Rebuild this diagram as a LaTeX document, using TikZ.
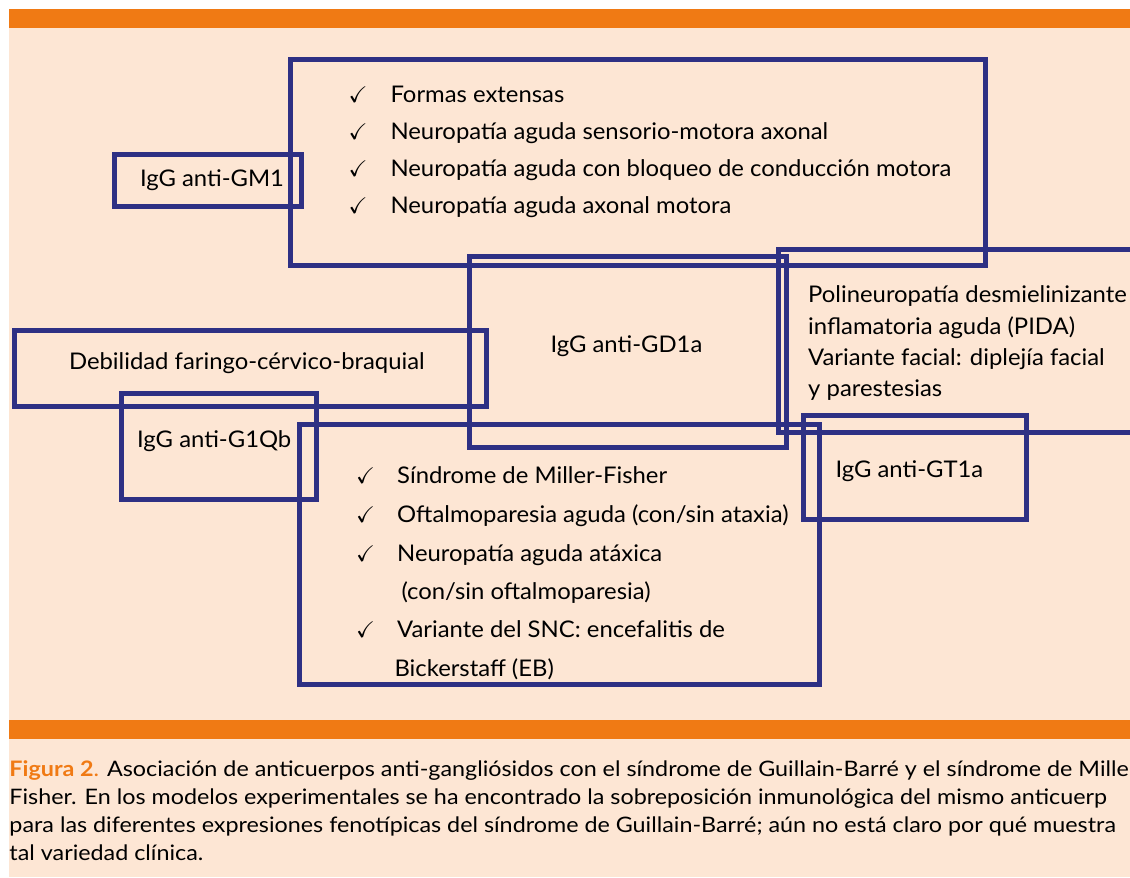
\documentclass[tikz,border=0pt]{standalone}
\usepackage{fontspec}
\usepackage{amssymb}
\setmainfont[FakeStretch=1.04]{Lato}
\newfontfamily\capfont[FakeStretch=1.093]{Lato}
\definecolor{bandorange}{HTML}{F07A14}
\definecolor{paper}{HTML}{FDE6D4}
\definecolor{boxblue}{HTML}{2E3084}
\tikzset{every picture/.style={line width=0.75pt}}
\tikzset{
  agbox/.style={draw=boxblue,line width=3.75pt},
  boxtext/.style={anchor=base west,inner sep=0pt,font=\fontsize{17.2}{20}\selectfont},
  chk/.style={anchor=base west,inner sep=0pt,font=\fontsize{17}{20}\selectfont},
  captext/.style={anchor=base west,inner sep=0pt,font=\capfont\fontsize{16}{21}\selectfont}
}

\begin{document}
\begin{tikzpicture}[x=0.75pt,y=0.75pt,yscale=-1,xscale=1]
\useasboundingbox (0,0) rectangle (1130,877);
\clip (0,0) rectangle (1130,877);

%Shape: Rectangle [id:paper]
\fill [white] (0,0) rectangle (1130,877);
\fill [paper] (9,9) rectangle (1130,877);
%Shape: Rectangle [id:topband]
\fill [bandorange] (9,9) rectangle (1130,28);
%Shape: Rectangle [id:bottomband]
\fill [bandorange] (9,720) rectangle (1130,739);

%Shape: Rectangle [id:gm1disorders]
\draw [agbox] (290,60) rectangle (985.5,265.5);
%Shape: Rectangle [id:gm1]
\draw [agbox] (114.5,154.5) rectangle (301.5,206.5);
%Shape: Rectangle [id:gd1a]
\draw [agbox] (469,256.5) rectangle (786,447.5);
%Shape: Rectangle [id:pida]
\draw [agbox] (778.5,249) rectangle (1145,432);
%Shape: Rectangle [id:debilidad]
\draw [agbox] (14,330) rectangle (486.5,406.5);
%Shape: Rectangle [id:g1qb]
\draw [agbox] (121,393.5) rectangle (316,499);
%Shape: Rectangle [id:millerfisher]
\draw [agbox] (299.5,424.5) rectangle (819,684);
%Shape: Rectangle [id:gt1a]
\draw [agbox] (803.5,415) rectangle (1026,519);

% Text Node
\draw (348,102.7) node (chkA) [chk] {$\checkmark$};
\draw (390,102.7) node (formas) [boxtext] {Formas extensas};
% Text Node
\draw (348,140) node (chkB) [chk] {$\checkmark$};
\draw (390,140) node (sensorio) [boxtext] {Neuropatía aguda sensorio-motora axonal};
% Text Node
\draw (348,177) node (chkC) [chk] {$\checkmark$};
\draw (390,177) node (bloqueo) [boxtext] {Neuropatía aguda con bloqueo de conducción motora};
% Text Node
\draw (348,214) node (chkD) [chk] {$\checkmark$};
\draw (390,214) node (axonal) [boxtext] {Neuropatía aguda axonal motora};

% Text Node
\draw (139.5,186.7) node (gmlabel) [boxtext] {IgG anti-GM1};
% Text Node
\draw (550,352.3) node (gdlabel) [boxtext] {IgG anti-GD1a};
% Text Node
\draw (68.5,369) node (deblabel) [boxtext] {Debilidad faringo-cérvico-braquial};
% Text Node
\draw (136.7,447.7) node (gqlabel) [boxtext] {IgG anti-G1Qb};
% Text Node
\draw (835,477.7) node (gtlabel) [boxtext] {IgG anti-GT1a};

% Text Node
\draw (807.7,302.7) node (pidaA) [boxtext] {Polineuropatía desmielinizante};
\draw (807.7,334.3) node (pidaB) [boxtext] {inflamatoria aguda (PIDA)};
\draw (807.7,365.5) node (pidaC) [boxtext] {Variante facial: diplejía facial};
\draw (807.7,396.7) node (pidaD) [boxtext] {y parestesias};

% Text Node
\draw (355.5,483.7) node (chkE) [chk] {$\checkmark$};
\draw (396.7,483.7) node (mfA) [boxtext] {Síndrome de Miller-Fisher};
% Text Node
\draw (355.5,522.3) node (chkF) [chk] {$\checkmark$};
\draw (396.7,522.3) node (mfB) [boxtext] {Oftalmoparesia aguda (con/sin ataxia)};
% Text Node
\draw (355.5,561) node (chkG) [chk] {$\checkmark$};
\draw (396.7,561) node (mfC) [boxtext] {Neuropatía aguda atáxica};
\draw (401,599) node (mfD) [boxtext] {(con/sin oftalmoparesia)};
% Text Node
\draw (355.5,637.6) node (chkH) [chk] {$\checkmark$};
\draw (396.7,637.6) node (mfE) [boxtext] {Variante del SNC: encefalitis de};
\draw (394,676.5) node (mfF) [boxtext] {Bickerstaff (EB)};

% Text Node
\draw (9,776.7) node (capA) [captext] {\textcolor{bandorange}{\bfseries Figura 2}\textcolor{bandorange}{.} Asociación de anticuerpos anti-gangliósidos con el síndrome de Guillain-Barré y el síndrome de Mille};
\draw (9,804.3) node (capB) [captext] {Fisher. En los modelos experimentales se ha encontrado la sobreposición inmunológica del mismo anticuerp};
\draw (9,832.3) node (capC) [captext] {para las diferentes expresiones fenotípicas del síndrome de Guillain-Barré; aún no está claro por qué muestra};
\draw (9,860.7) node (capD) [captext] {tal variedad clínica.};

\end{tikzpicture}
\end{document}
